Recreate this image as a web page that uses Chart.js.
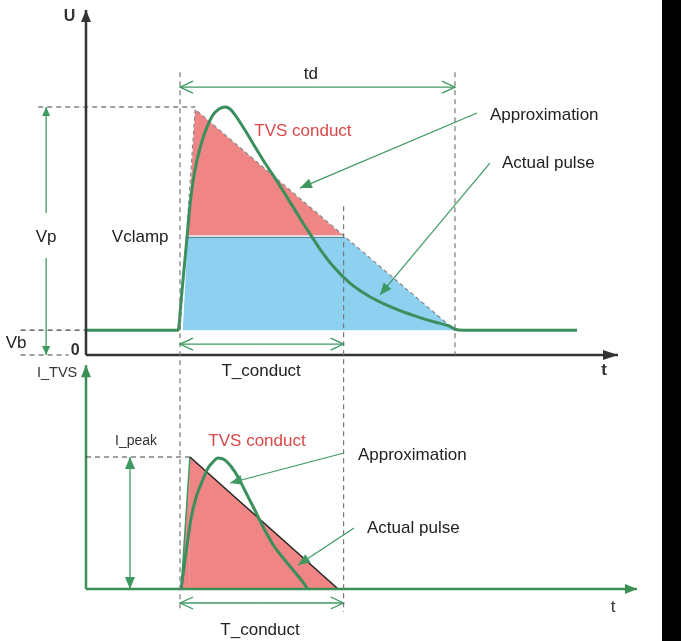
<!DOCTYPE html>
<html>
<head>
<meta charset="utf-8">
<script src="https://cdn.jsdelivr.net/npm/chart.js@4.4.1/dist/chart.umd.min.js"></script>
<style>
  html, body { margin: 0; padding: 0; background: #fff; }
  #wrap { position: relative; width: 681px; height: 641px; overflow: hidden; }
  canvas { position: absolute; left: 0; top: 0; }
  #edge { position: absolute; left: 662px; top: 0; width: 19px; height: 641px; background: #000; }
</style>
</head>
<body>
<div id="wrap">
  <canvas id="currentChart" width="681" height="641"></canvas>
  <canvas id="voltageChart" width="681" height="641"></canvas>
  <div id="edge"></div>
</div>
<script>
// units: t = 0 at pulse start, td = 100; Vp = 100; I_peak = 100
const Vb = 10, Vclamp = 48, Vp = 100, td = 100, tConduct = 59.5, Ipeak = 100;

// actual voltage pulse (incl. Vb baseline before and after)
const pulseT = [-34.2, -0.7, 0.4, 1.5, 2.6, 3.6, 4.7, 6.2, 8.0, 9.8, 12.0, 14.2, 16.4, 18.2, 20.0, 23.6, 27.3, 30.9, 34.5, 38.2, 41.8, 44.7, 48.0, 50.9, 55.6, 61.8, 68.0, 73.8, 80.0, 86.2, 92.0, 98.2, 100, 103, 144.4];
const pulseU = [10, 10, 22.2, 35.1, 48.0, 60.1, 69.8, 78.6, 86.3, 91.9, 96.8, 99.2, 100, 99.2, 96.8, 90.7, 83.9, 77.4, 71.4, 64.9, 58.5, 53.2, 47.6, 42.7, 35.9, 29.0, 24.2, 20.8, 17.9, 15.5, 13.5, 11.5, 10.4, 10, 10];

// triangular approximation of the voltage pulse
const approxT = [0, 5.5, 100];
const approxU = [10, 99, 10];

// part above Vclamp (TVS conduct) and part below
const redT = [2.8, 5.5, 59.5];
const redU = [48, 99, 48];
const blueT = [1.0, 2.8, 59.5, 100];
const blueU = [10, 48, 48, 10];
const clampT = [2.8, 59.5];
const clampU = [48, 48];

// TVS current: actual pulse and triangle approximation
const currT = [0.4, 2.3, 4.1, 5.9, 7.8, 10.2, 12.0, 13.8, 16.3, 18.7, 21.1, 23.5, 27.2, 30.8, 34.4, 38.1, 41.7, 44.1, 45.9, 46.2];
const currI = [0, 29.5, 54.5, 69.7, 80.3, 91.7, 96.2, 99.2, 97.7, 92.4, 84.8, 75.0, 59.8, 44.7, 31.8, 22.0, 12.9, 6.8, 1.5, 0];
const triT = [0.4, 3.6, 57.5];
const triI = [0, 100, 0];

const FONT = "'Liberation Sans', Arial, sans-serif";
const GREEN = "#3a8f5c";
const PTR = "#3d9960";

function pts(xs, ys) {
  return xs.map((v, i) => ({ x: v, y: ys[i] }));
}

function head(ctx, fx, fy, tx, ty, len, half, open) {
  const a = Math.atan2(ty - fy, tx - fx);
  const bx = tx - len * Math.cos(a), by = ty - len * Math.sin(a);
  const nx = -Math.sin(a) * half, ny = Math.cos(a) * half;
  ctx.beginPath();
  ctx.moveTo(bx + nx, by + ny);
  ctx.lineTo(tx, ty);
  ctx.lineTo(bx - nx, by - ny);
  if (open) {
    ctx.stroke();
  } else {
    ctx.closePath();
    ctx.fill();
  }
}

function arrow(ctx, fx, fy, tx, ty, len, half, open) {
  ctx.beginPath();
  ctx.moveTo(fx, fy);
  ctx.lineTo(tx, ty);
  ctx.stroke();
  head(ctx, fx, fy, tx, ty, len, half, open);
}

function dashed(ctx, x1, y1, x2, y2, color) {
  ctx.save();
  ctx.strokeStyle = color;
  ctx.lineWidth = 1.2;
  ctx.setLineDash([5, 4]);
  ctx.beginPath();
  ctx.moveTo(x1, y1);
  ctx.lineTo(x2, y2);
  ctx.stroke();
  ctx.restore();
}

function label(ctx, s, px, py, size, align, color, bold) {
  ctx.font = (bold ? "bold " : "") + size + "px " + FONT;
  ctx.fillStyle = color || "#222";
  ctx.textAlign = align || "center";
  ctx.textBaseline = "middle";
  ctx.fillText(s, px, py);
}

function baseOptions(pad, xMin, xMax, yMax) {
  return {
    responsive: false,
    animation: false,
    events: [],
    layout: { autoPadding: false, padding: pad },
    plugins: { legend: { display: false }, tooltip: { enabled: false } },
    elements: { point: { radius: 0 } },
    scales: {
      x: { type: "linear", display: false, min: xMin, max: xMax },
      y: { type: "linear", display: false, min: 0, max: yMax },
    },
  };
}

const voltageNotes = {
  id: "voltageNotes",
  afterDatasetsDraw(chart) {
    const { ctx, scales: { x, y } } = chart;
    const X = (v) => x.getPixelForValue(v);
    const Y = (v) => y.getPixelForValue(v);
    ctx.save();

    // axes
    ctx.strokeStyle = "#333";
    ctx.fillStyle = "#333";
    ctx.lineWidth = 2.5;
    arrow(ctx, X(x.min), Y(0), X(x.min), Y(y.max), 12, 5, false);
    arrow(ctx, X(x.min), Y(0), X(x.max), Y(0), 15, 5, false);

    // dashed guides
    const bottomEdge = Y(-103.6);
    dashed(ctx, X(0), Y(114), X(0), bottomEdge, "#777");
    dashed(ctx, X(tConduct), Y(60), X(tConduct), bottomEdge, "#777");
    dashed(ctx, X(td), Y(114), X(td), Y(0), "#777");
    dashed(ctx, X(-51.6), Y(Vp), X(5.5), Y(Vp), "#444");
    dashed(ctx, X(-58), Y(Vb), X(x.min), Y(Vb), "#444");
    dashed(ctx, X(-58), Y(0), X(-40.5), Y(0), "#444");

    // dimension arrows
    ctx.strokeStyle = PTR;
    ctx.fillStyle = PTR;
    ctx.lineWidth = 1.3;
    arrow(ctx, X(-48.7), Y(57.3), X(-48.7), Y(Vp), 9, 4, false);
    arrow(ctx, X(-48.7), Y(39.1), X(-48.7), Y(0), 9, 4, false);
    arrow(ctx, X(50), Y(108), X(0), Y(108), 13, 6, true);
    arrow(ctx, X(50), Y(108), X(td), Y(108), 13, 6, true);
    arrow(ctx, X(30), Y(4.4), X(0), Y(4.4), 13, 6, true);
    arrow(ctx, X(30), Y(4.4), X(tConduct), Y(4.4), 13, 6, true);

    // pointers
    ctx.lineWidth = 1.2;
    arrow(ctx, X(108), Y(97.6), X(43.6), Y(67.3), 12, 5, false);
    arrow(ctx, X(112.7), Y(77.4), X(72.7), Y(24.2), 12, 5, false);

    // texts
    label(ctx, "U", X(-40.2), Y(136.3), 16, "center", "#333", true);
    label(ctx, "0", X(-36.5), Y(1.6), 16, "right", "#333", true);
    label(ctx, "t", X(154.2), Y(-6), 17, "center", "#333", true);
    label(ctx, "Vb", X(-59.6), Y(4.8), 17);
    label(ctx, "Vp", X(-48.7), Y(47.6), 17);
    label(ctx, "Vclamp", X(-14.5), Y(47.6), 17);
    label(ctx, "td", X(47.6), Y(113.3), 17);
    label(ctx, "TVS conduct", X(44.7), Y(90.3), 17, "center", "#d94848");
    label(ctx, "T_conduct", X(29.5), Y(-6.5), 17);
    label(ctx, "Approximation", X(112.7), Y(96.8), 17, "left");
    label(ctx, "Actual pulse", X(117.1), Y(77.4), 17, "left");
    ctx.restore();
  },
};

const currentNotes = {
  id: "currentNotes",
  afterDatasetsDraw(chart) {
    const { ctx, scales: { x, y } } = chart;
    const X = (v) => x.getPixelForValue(v);
    const Y = (v) => y.getPixelForValue(v);
    ctx.save();

    // axes (green)
    ctx.strokeStyle = "#3b8f55";
    ctx.fillStyle = "#3b8f55";
    ctx.lineWidth = 2.5;
    arrow(ctx, X(x.min), Y(0), X(x.min), Y(169.5), 12, 5, false);
    arrow(ctx, X(x.min), Y(0), X(x.max), Y(0), 12, 5, false);

    dashed(ctx, X(x.min), Y(Ipeak), X(3.6), Y(Ipeak), "#444");

    ctx.strokeStyle = PTR;
    ctx.fillStyle = PTR;
    ctx.lineWidth = 1.3;
    arrow(ctx, X(-18.2), Y(50), X(-18.2), Y(Ipeak), 12, 5, false);
    arrow(ctx, X(-18.2), Y(50), X(-18.2), Y(0), 12, 5, false);
    arrow(ctx, X(30), Y(-10.6), X(0), Y(-10.6), 13, 6, true);
    arrow(ctx, X(30), Y(-10.6), X(tConduct), Y(-10.6), 13, 6, true);

    ctx.lineWidth = 1.2;
    arrow(ctx, X(59.6), Y(103), X(18.2), Y(80.3), 12, 5, false);
    arrow(ctx, X(63.3), Y(46.2), X(42.9), Y(18.2), 12, 5, false);

    label(ctx, "I_TVS", X(-44.7), Y(163.6), 14.5, "center", "#333");
    label(ctx, "t", X(157.5), Y(-13.6), 17, "center", "#333");
    label(ctx, "I_peak", X(-16), Y(112.1), 14, "center", "#333");
    label(ctx, "TVS conduct", X(28), Y(112.1), 17, "center", "#d94848");
    label(ctx, "Approximation", X(64.7), Y(101.5), 17, "left");
    label(ctx, "Actual pulse", X(68), Y(46.2), 17, "left");
    label(ctx, "T_conduct", X(29.1), Y(-31.1), 17);
    ctx.restore();
  },
};

new Chart(document.getElementById("voltageChart"), {
  type: "line",
  data: {
    datasets: [
      {
        data: pts(pulseT, pulseU),
        borderColor: GREEN,
        borderWidth: 3,
        cubicInterpolationMode: "monotone",
        fill: false,
        clip: false,
        order: 0,
      },
      {
        data: pts(approxT, approxU),
        borderColor: "#888",
        borderWidth: 1.2,
        borderDash: [4, 3],
        fill: false,
        clip: false,
        order: 1,
      },
      {
        data: pts(clampT, clampU),
        borderColor: "#eef2f4",
        borderWidth: 1.6,
        fill: false,
        clip: false,
        order: 2,
      },
      {
        data: pts(clampT, clampU.map((v) => v - 0.6)),
        borderColor: "#5f7d88",
        borderWidth: 1,
        fill: false,
        clip: false,
        order: 2,
      },
      {
        data: pts(redT, redU),
        borderWidth: 0,
        borderColor: "rgba(0,0,0,0)",
        backgroundColor: "#f08585",
        fill: { value: Vclamp },
        clip: false,
        order: 3,
      },
      {
        data: pts(blueT, blueU),
        borderWidth: 0,
        borderColor: "rgba(0,0,0,0)",
        backgroundColor: "#8dd0f0",
        fill: { value: Vb },
        clip: false,
        order: 4,
      },
    ],
  },
  options: baseOptions({ left: 86, right: 63, top: 10, bottom: 286 }, -34.2, 159.3, 139.1),
  plugins: [voltageNotes],
});

new Chart(document.getElementById("currentChart"), {
  type: "line",
  data: {
    datasets: [
      {
        data: pts(currT, currI),
        borderColor: GREEN,
        borderWidth: 3,
        cubicInterpolationMode: "monotone",
        fill: false,
        clip: false,
        order: 0,
      },
      {
        data: pts(triT, triI),
        borderWidth: 1.5,
        backgroundColor: "#f08585",
        segment: {
          borderColor: (c) => (c.p0DataIndex === 0 ? PTR : "#222"),
        },
        fill: { value: 0 },
        clip: false,
        order: 1,
      },
    ],
  },
  options: baseOptions({ left: 86, right: 44, top: 368, bottom: 52 }, -34.2, 166.2, 167.4),
  plugins: [currentNotes],
});
</script>
</body>
</html>
